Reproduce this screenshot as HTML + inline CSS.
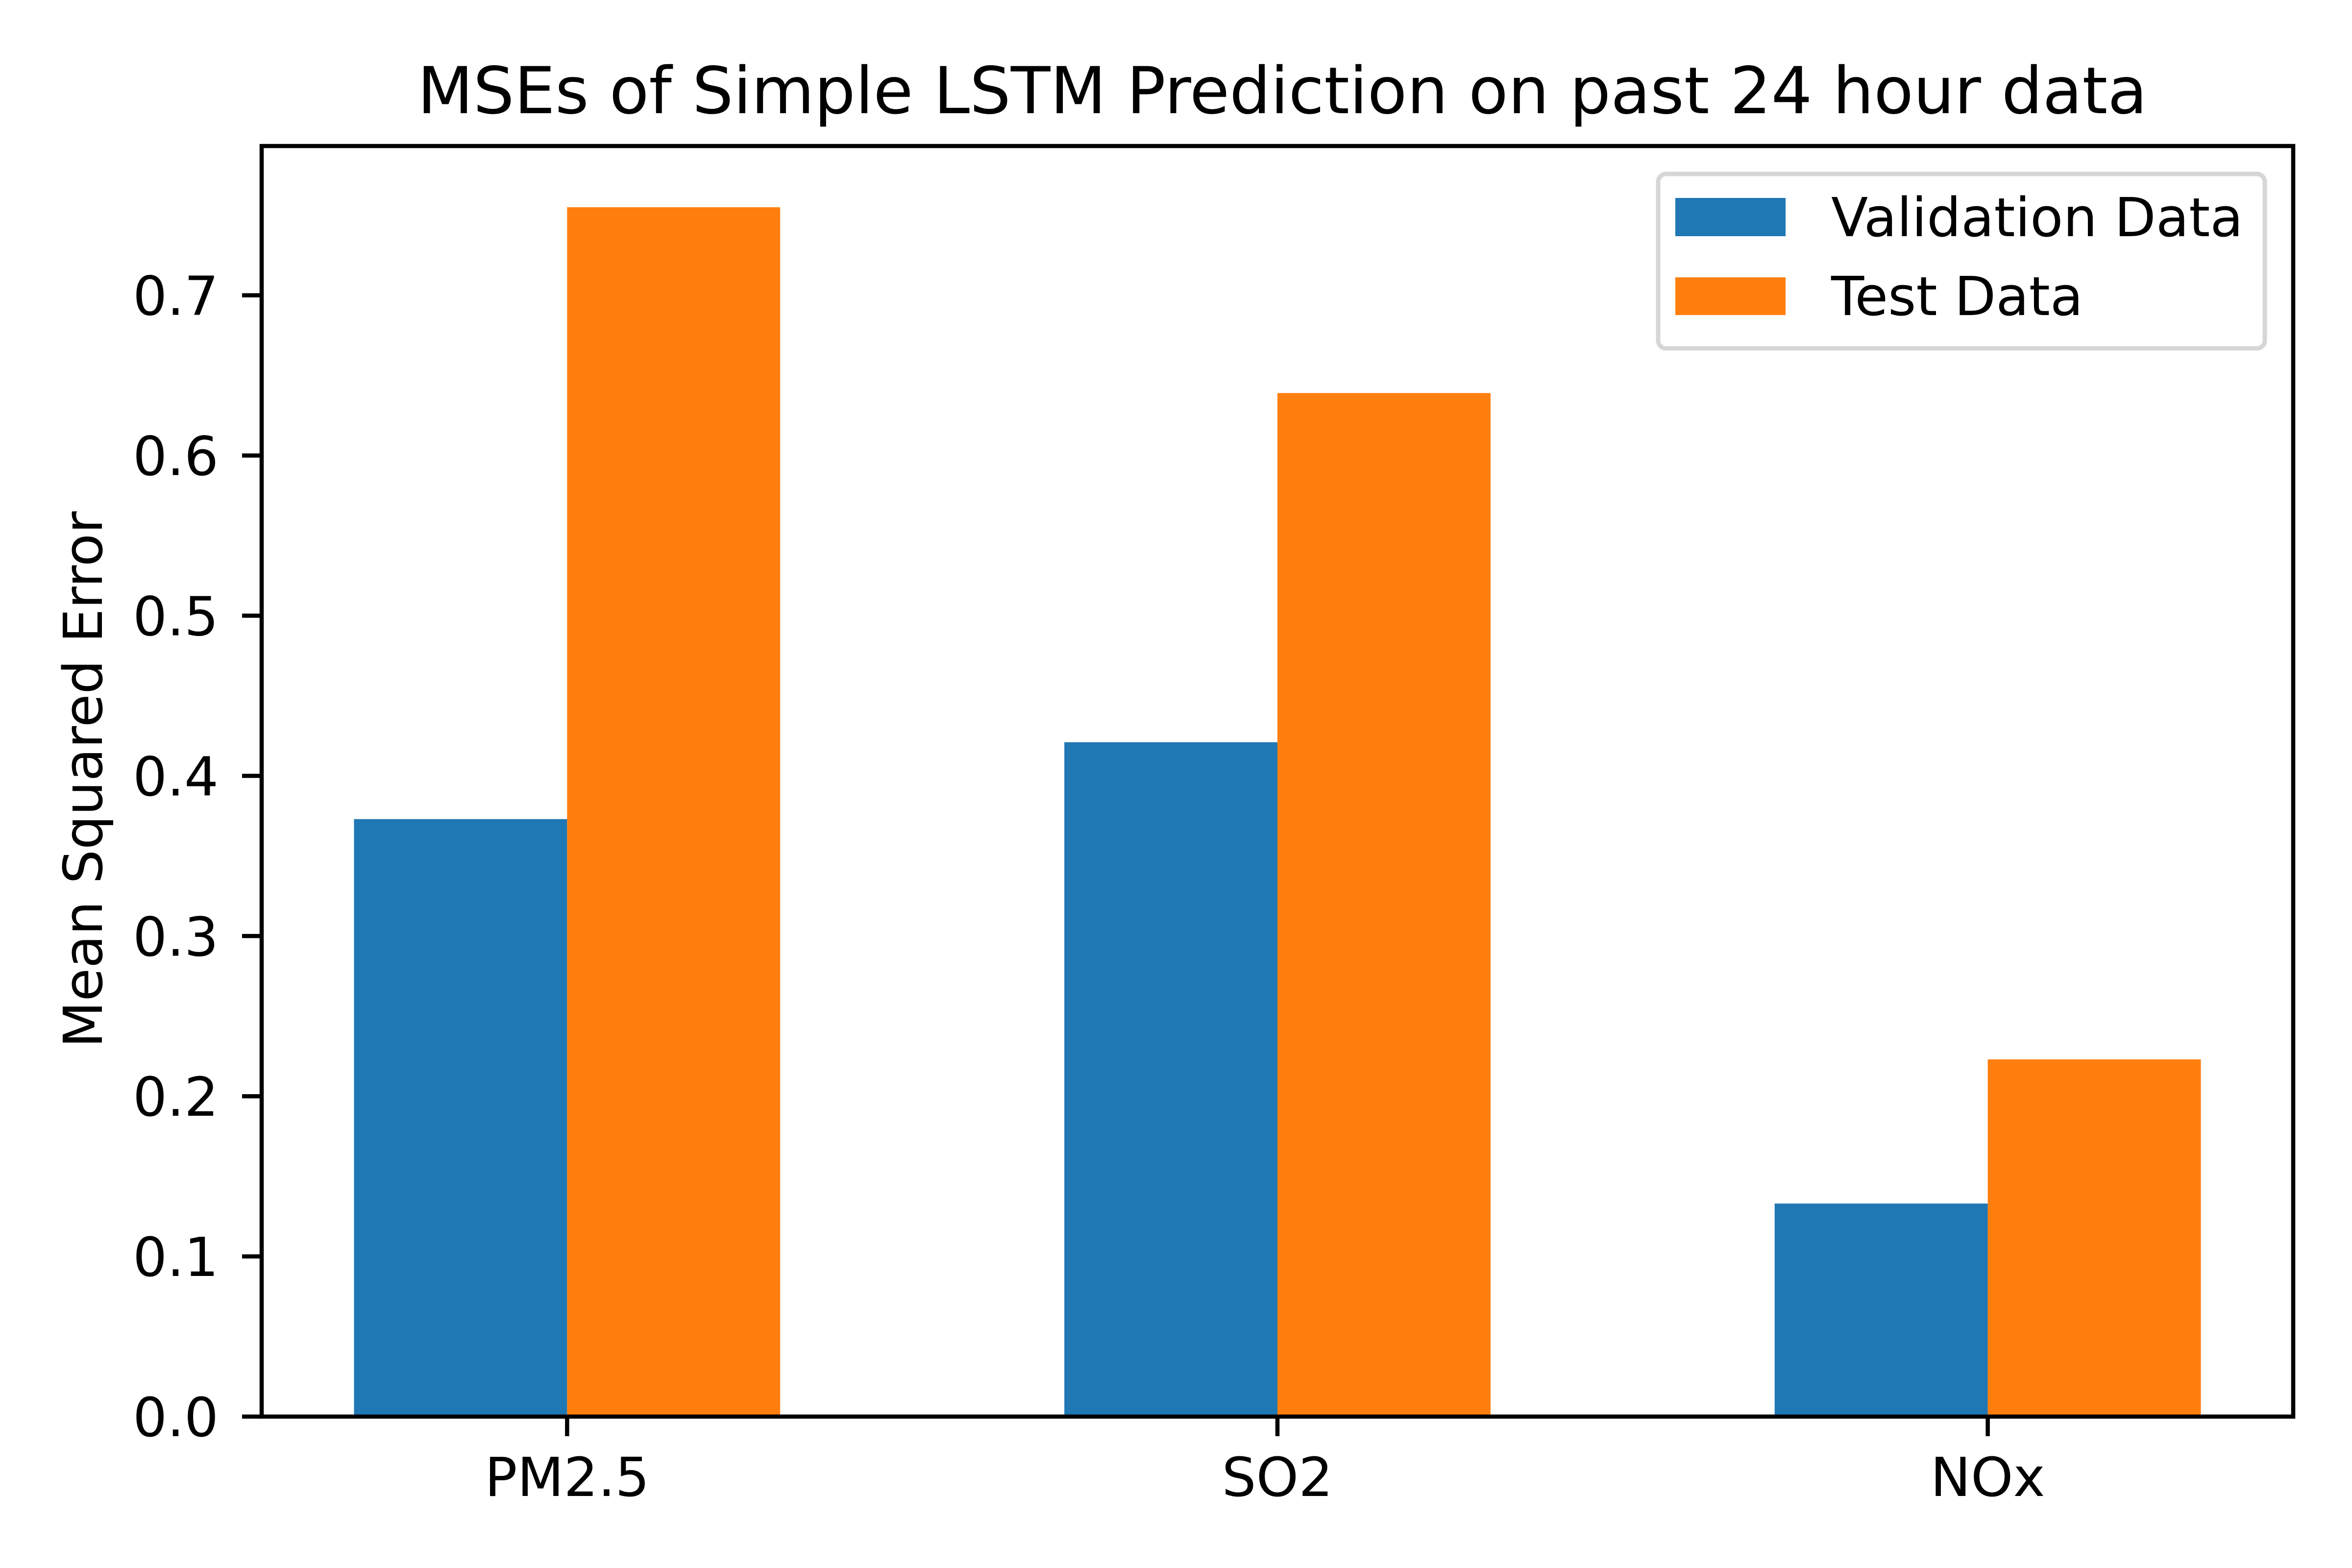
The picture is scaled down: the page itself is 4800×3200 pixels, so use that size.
<!DOCTYPE html>
<html><head><meta charset="utf-8"><style>
html,body{margin:0;padding:0;background:#fff;}
svg{display:block;font-family:"DejaVu Sans","Liberation Sans",sans-serif;}
</style></head><body>
<svg id="chart" width="4800" height="3200" viewBox="0 0 4800 3200" xmlns="http://www.w3.org/2000/svg">
<rect width="4800" height="3200" fill="#fff"/>
<text x="2617" y="231" font-size="132" text-anchor="middle">MSEs of Simple LSTM Prediction on past 24 hour data</text>
<g id="plot"></g>
<text transform="translate(208,1591) rotate(-90)" text-anchor="middle" font-size="110">Mean Squared Error</text>
<g>
<rect x="3384" y="355" width="1238" height="356" rx="16" fill="#fff" fill-opacity="0.8" stroke="#d6d6d6" stroke-width="9"/>
<rect x="3419" y="404" width="225" height="78" fill="#1f77b4"/>
<text x="3737" y="482" font-size="110">Validation Data</text>
<rect x="3419" y="566" width="225" height="77" fill="#ff7f0e"/>
<text x="3737" y="643" font-size="110">Test Data</text>
</g>
</svg>
<script>
const categories = ["PM2.5", "SO2", "NOx"];
const validationValues = [0.373, 0.421, 0.133];
const testValues = [0.755, 0.639, 0.223];
const yTickValues = [0.0, 0.1, 0.2, 0.3, 0.4, 0.5, 0.6, 0.7];
const yTickLabels = ["0.0", "0.1", "0.2", "0.3", "0.4", "0.5", "0.6", "0.7"];

const NS = "http://www.w3.org/2000/svg";
const L = 534, R = 4680, T = 298, B = 2891;
const xMin = -0.43, xMax = 2.43, yMin = 0, yMax = 0.7932;
const barW = 0.3;
function xs(v){ return L + (v - xMin) / (xMax - xMin) * (R - L); }
function ys(v){ return B - (v - yMin) / (yMax - yMin) * (B - T); }
const g = document.getElementById('plot');
function mk(tag, attrs){ const e = document.createElementNS(NS, tag); for (const k in attrs) e.setAttribute(k, attrs[k]); g.appendChild(e); return e; }

categories.forEach((c, i) => {
  const b1 = mk('rect', {x: xs(i - barW), y: ys(validationValues[i]), width: xs(i) - xs(i - barW), height: ys(0) - ys(validationValues[i]), fill: '#1f77b4'});
  
  
  const b2 = mk('rect', {x: xs(i), y: ys(testValues[i]), width: xs(i + barW) - xs(i), height: ys(0) - ys(testValues[i]), fill: '#ff7f0e'});
  
  
  const tk = mk('line', {x1: xs(i), x2: xs(i), y1: B, y2: B + 40, stroke: '#000', 'stroke-width': 8.5});
  
  
  const tl = mk('text', {x: xs(i), y: 3053, 'font-size': 110, 'text-anchor': 'middle'});
  tl.textContent = c;
  
  
});
yTickValues.forEach((v, i) => {
  const tk = mk('line', {x1: L - 40, x2: L, y1: ys(v), y2: ys(v), stroke: '#000', 'stroke-width': 8.5});
  
  
  const tl = mk('text', {x: 446, y: ys(v) + 40, 'font-size': 110, 'text-anchor': 'end'});
  tl.textContent = yTickLabels[i];
  
  
});
const frame = mk('rect', {x: L, y: T, width: R - L, height: B - T, fill: 'none', stroke: '#000', 'stroke-width': 8.5});


</script>
</body></html>
